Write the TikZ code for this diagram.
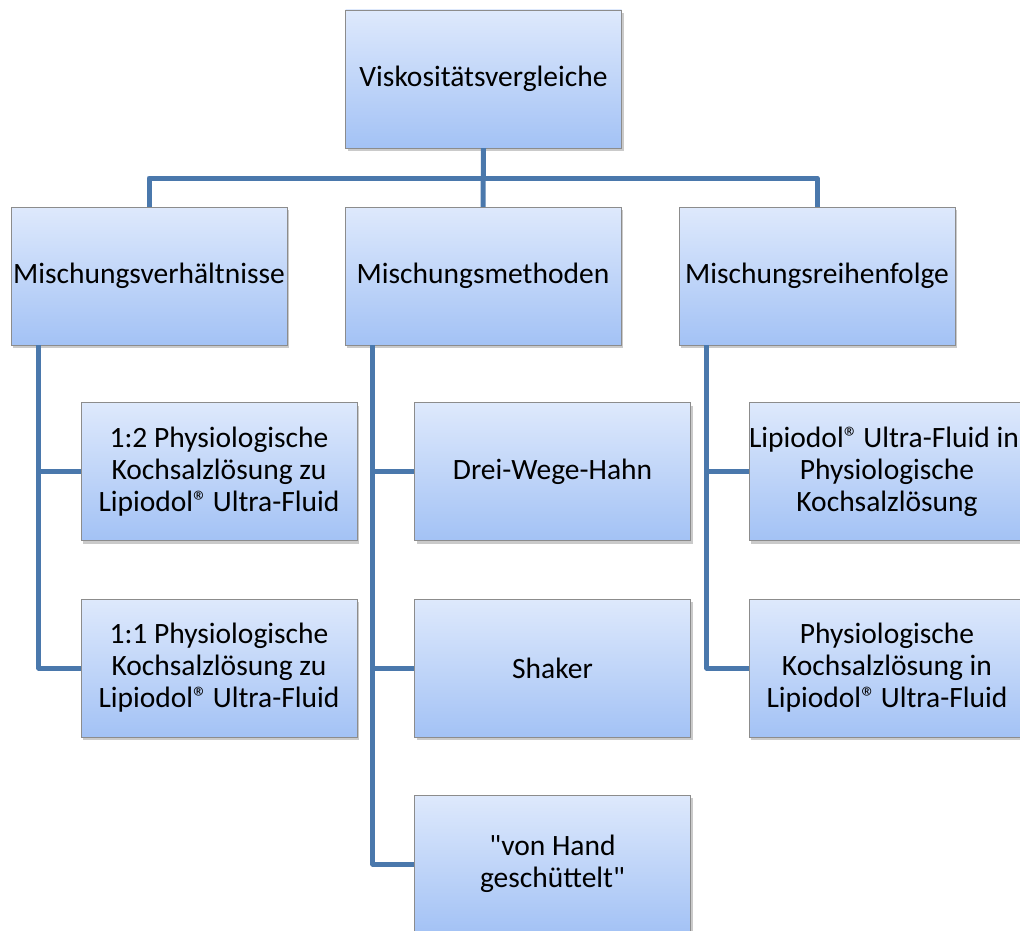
\documentclass[tikz,border=0pt]{standalone}
\usepackage{fontspec}
\setmainfont{Carlito}
\usetikzlibrary{shadows}
\definecolor{linkblue}{RGB}{74,120,172}
\definecolor{boxtop}{RGB}{222,233,252}
\definecolor{boxbot}{RGB}{163,194,245}
\newcommand{\regm}{®\kern-2pt}
\tikzset{
  box/.style={rectangle, draw=black!45, top color=boxtop, bottom color=boxbot,
    minimum width=276pt, minimum height=138pt, align=center,
    inner sep=0pt, font=\fontsize{29.5}{32}\selectfont,
    drop shadow={shadow xshift=2pt, shadow yshift=-3pt, opacity=0.35, fill=black!60}},
  conn/.style={draw=linkblue, line width=5pt, line join=round}
}
\begin{document}
\begin{tikzpicture}[x=1pt,y=-1pt]
    \useasboundingbox (0,0) rectangle (1020,931);
    \clip (0,0) rectangle (1020,931);
    % top
    \node[box] (root) at (483.5,79) {Viskositätsvergleiche};
    % second row
    \node[box] (verh) at (149,276) {Mischungsverhältnisse};
    \node[box] (meth) at (483,276) {Mischungsmethoden};
    \node[box] (reih) at (817,276) {Mischungsreihenfolge};
    % children
    \node[box] (v1) at (219,471.5) {1:2 Physiologische\\Kochsalzlösung zu\\Lipiodol\regm{} Ultra-Fluid};
    \node[box] (v2) at (219,668) {1:1 Physiologische\\Kochsalzlösung zu\\Lipiodol\regm{} Ultra-Fluid};
    \node[box] (m1) at (552.5,471.5) {Drei-Wege-Hahn};
    \node[box] (m2) at (552.5,668) {Shaker};
    \node[box] (m3) at (552.5,864) {\textquotedbl von Hand\\geschüttelt\textquotedbl};
    \node[box] (r1) at (887,471.5) {Lipiodol\regm{} Ultra-Fluid in\kern6pt\\Physiologische\\Kochsalzlösung};
    \node[box] (r2) at (887,668) {Physiologische\\Kochsalzlösung in\\Lipiodol\regm{} Ultra-Fluid};
    % connectors
    \coordinate (bus) at (483.5,178);
    \draw[conn] (root.south) -- (meth.north);
    \draw[conn] (verh.north) |- (bus) -| (reih.north);
    \coordinate (vt) at ([xshift=28pt]verh.south west);
    \coordinate (mt) at ([xshift=28pt]meth.south west);
    \coordinate (rt) at ([xshift=28pt]reih.south west);
    \draw[conn] (vt) |- (v2.west);
    \draw[conn] (vt |- v1.west) -- (v1.west);
    \draw[conn] (mt) |- (m3.west);
    \draw[conn] (mt |- m1.west) -- (m1.west);
    \draw[conn] (mt |- m2.west) -- (m2.west);
    \draw[conn] (rt) |- (r2.west);
    \draw[conn] (rt |- r1.west) -- (r1.west);
\end{tikzpicture}
\end{document}
